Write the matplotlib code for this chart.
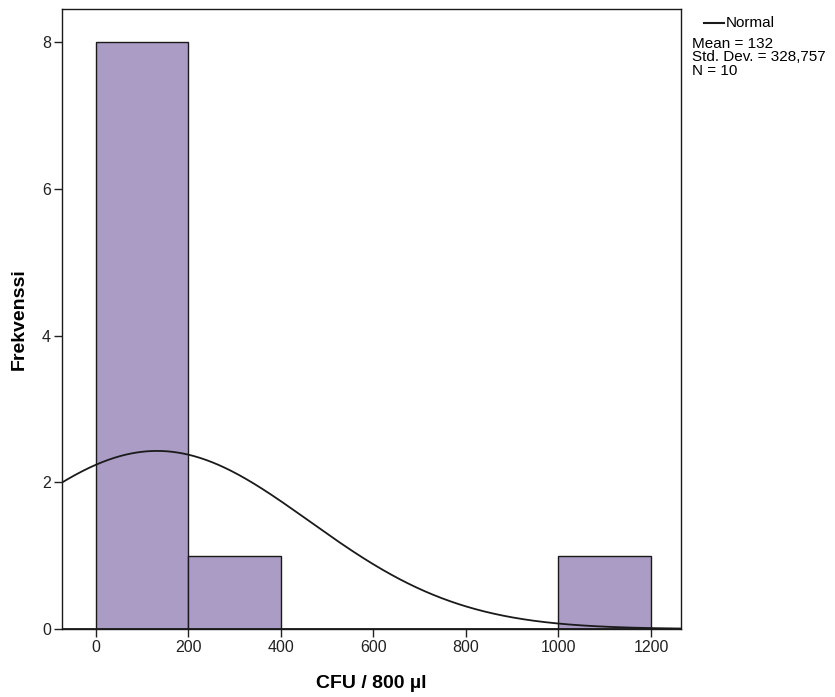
import numpy as np
import matplotlib
matplotlib.use("Agg")
from matplotlib import pyplot as plt
from matplotlib.lines import Line2D

# histogram data
bin_edges = [0, 200, 400, 600, 800, 1000, 1200]
counts = [8, 1, 0, 0, 0, 1]
mean = 132
std_dev = 328.757
n_obs = 10
x_ticks = [0, 200, 400, 600, 800, 1000, 1200]
y_ticks = [0, 2, 4, 6, 8]

plt.rcParams['font.family'] = ['Liberation Sans', 'DejaVu Sans']

fig = plt.figure(figsize=(8.35, 6.97), dpi=100)
ax = fig.add_axes([62 / 835, 68 / 697, 619 / 835, 620 / 697])

edges = np.array(bin_edges)
widths = np.diff(edges)
ax.bar(edges[:-1], counts, width=widths, align='edge',
       color='#ab9cc5', edgecolor='#1a1a1a', linewidth=1.0, zorder=2)

# normal curve scaled to counts
xs = np.linspace(-80, 1270, 600)
bw = widths[0]
ys = n_obs * bw / (std_dev * np.sqrt(2 * np.pi)) * np.exp(-(xs - mean) ** 2 / (2 * std_dev ** 2))
ax.plot(xs, ys, color='#1a1a1a', linewidth=1.3, zorder=3)

ax.set_xlim(-73.5, 1265)
ax.set_ylim(0, 8.45)
ax.set_xticks(x_ticks)
ax.set_yticks(y_ticks)
ax.tick_params(direction='out', length=6, width=1.0, labelsize=11.5, colors='#222222', pad=2)
ax.axhline(0, color='#1a1a1a', linewidth=2.0, zorder=4)
for s in ax.spines.values():
    s.set_linewidth(1.0)
    s.set_color('#1a1a1a')

ax.set_xlabel('CFU / 800 µl', fontsize=14, fontweight='bold', labelpad=14)
ax.set_ylabel('Frekvenssi', fontsize=14, fontweight='bold', labelpad=10)

# legend and stats box on the right
fig.add_artist(Line2D([704 / 835, 724 / 835], [1 - 23 / 697, 1 - 23 / 697],
                      color='#1a1a1a', linewidth=1.5))
fig.text(726 / 835, 1 - 23 / 697, 'Normal', fontsize=11, va='center', ha='left')
fig.text(692 / 835, 1 - 37 / 697,
         'Mean = %d\nStd. Dev. = %s\nN = %d' % (mean, str(std_dev).replace('.', ','), n_obs),
         fontsize=11, va='top', ha='left', linespacing=0.95)

fig.savefig('out.png', dpi=100)
